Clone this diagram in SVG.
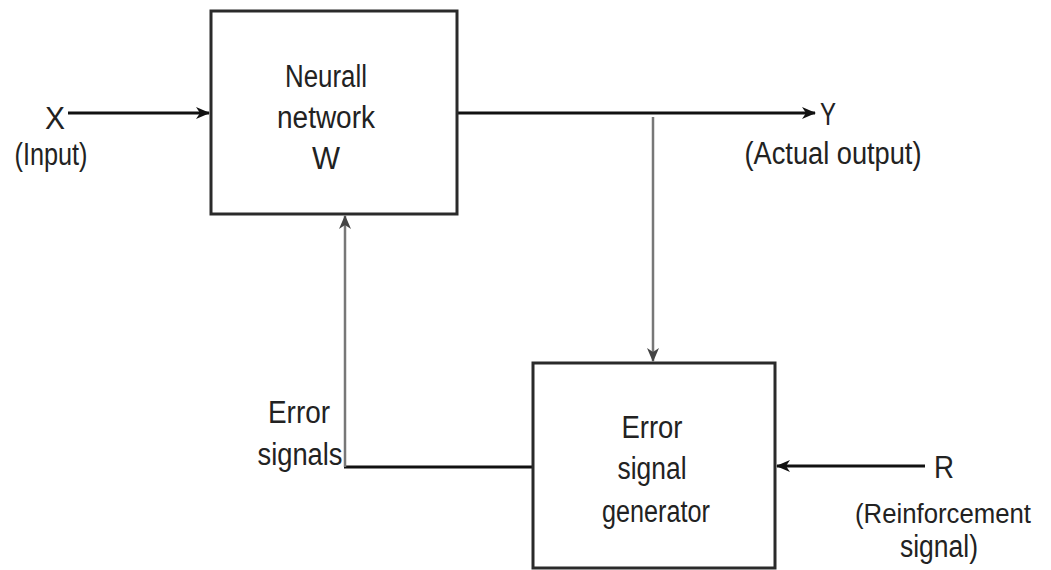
<svg xmlns="http://www.w3.org/2000/svg" width="1051" height="570" viewBox="0 0 1051 570">
<style>
text{font-family:"Liberation Sans",Arial,sans-serif;font-size:31px;fill:#222;text-anchor:middle}
.box{fill:#fff;stroke:#2a2a2a;stroke-width:3}
.wire{fill:none;stroke:#111;stroke-width:3}
.gwire{fill:none;stroke:#777;stroke-width:2.5}
</style>
<defs>
<marker id="ah" markerWidth="14" markerHeight="12" refX="13" refY="6" orient="auto" markerUnits="userSpaceOnUse" viewBox="0 0 14 12">
<path d="M0,0 L14,6 L0,12 L4,6 Z" fill="#111"/>
</marker>
<marker id="ag" markerWidth="14" markerHeight="12" refX="13" refY="6" orient="auto" markerUnits="userSpaceOnUse" viewBox="0 0 14 12">
<path d="M0,0 L14,6 L0,12 L4,6 Z" fill="#444"/>
</marker>
</defs>
<rect width="1051" height="570" fill="#fff"/>
<g id="connectors">
<line class="wire" x1="68" y1="113" x2="209" y2="113" marker-end="url(#ah)"/>
<line class="wire" x1="458" y1="113" x2="815" y2="113" marker-end="url(#ah)"/>
<line class="gwire" x1="653" y1="117" x2="653" y2="361" marker-end="url(#ag)"/>
<line class="wire" x1="925" y1="466" x2="777" y2="466" marker-end="url(#ah)"/>
<line class="wire" x1="532" y1="467" x2="344" y2="467"/>
<line class="gwire" x1="345" y1="467" x2="345" y2="216" marker-end="url(#ag)"/>
</g>
<g id="neural-network">
<rect class="box" x="211" y="11" width="246" height="203"/>
<text x="326" y="87" textLength="82" lengthAdjust="spacingAndGlyphs">Neurall</text>
<text x="326" y="128" textLength="98" lengthAdjust="spacingAndGlyphs">network</text>
<text x="326" y="169" textLength="28" lengthAdjust="spacingAndGlyphs">W</text>
</g>
<g id="error-signal-generator">
<rect class="box" x="533" y="363" width="242" height="205"/>
<text x="652" y="438" textLength="61" lengthAdjust="spacingAndGlyphs">Error</text>
<text x="652" y="479" textLength="69" lengthAdjust="spacingAndGlyphs">signal</text>
<text x="656" y="522" textLength="108" lengthAdjust="spacingAndGlyphs">generator</text>
</g>
<g id="input-label">
<text x="55" y="129" textLength="20" lengthAdjust="spacingAndGlyphs">X</text>
<text x="51" y="165" textLength="73" lengthAdjust="spacingAndGlyphs">(Input)</text>
</g>
<g id="output-label">
<text x="828" y="125" textLength="16" lengthAdjust="spacingAndGlyphs">Y</text>
<text x="833" y="164" textLength="177" lengthAdjust="spacingAndGlyphs">(Actual output)</text>
</g>
<g id="reinforcement-label">
<text x="944" y="478" textLength="20" lengthAdjust="spacingAndGlyphs">R</text>
<text x="943" y="523" style="font-size:27px" textLength="176" lengthAdjust="spacingAndGlyphs">(Reinforcement</text>
<text x="939" y="557" textLength="78" lengthAdjust="spacingAndGlyphs">signal)</text>
</g>
<g id="error-signals-label">
<text x="299" y="423" textLength="62" lengthAdjust="spacingAndGlyphs">Error</text>
<text x="300" y="465" textLength="85" lengthAdjust="spacingAndGlyphs">signals</text>
</g>
</svg>
